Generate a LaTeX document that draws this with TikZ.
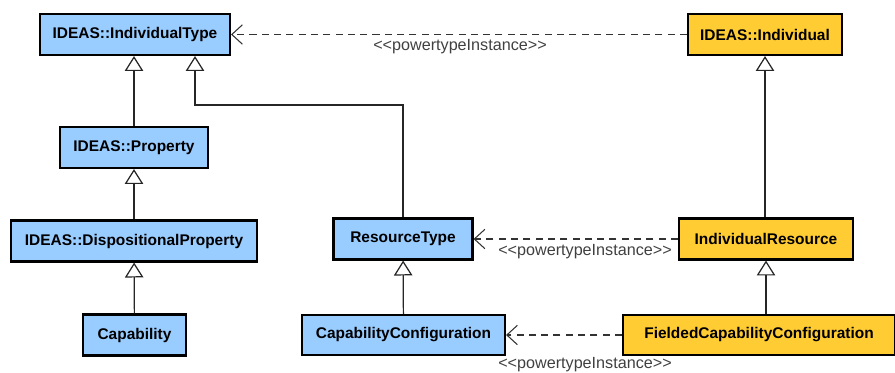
\documentclass[tikz,border=0pt]{standalone}
\usepackage{xcolor}
\usepackage{fontspec}
\setmainfont{Liberation Sans}
\usepackage{tikz}
\usetikzlibrary{positioning,arrows.meta}
\definecolor{typefill}{HTML}{99CCFF}
\definecolor{indivfill}{HTML}{FFCC33}

\begin{document}
\begin{tikzpicture}[
        x=0.02cm, y=-0.02cm,
        umlclass/.style={
            rectangle,
            draw=black,
            line width=1.2pt,
            inner sep=0pt,
            text=black,
            align=center,
            minimum height=0.82cm,
            font=\fontsize{8.8}{10}\selectfont\bfseries
        },
        typebox/.style={umlclass, fill=typefill},
        indivbox/.style={umlclass, fill=indivfill},
        inherit/.style={
            -{Triangle[open, length=8.5pt, width=10.5pt, fill=white]},
            line width=0.7pt,
            color=black!85
        },
        powertype/.style={
            -{Straight Barb[length=6pt, width=11pt, line width=0.6pt]},
            dashed,
            dash pattern=on 4pt off 3pt,
            line width=0.6pt,
            color=black!80
        },
        stereo/.style={
            font=\fontsize{9.2}{10}\selectfont,
            text=black!75,
            inner sep=0pt
        }
    ]
        \useasboundingbox (0,0) rectangle (895,372);

        % left column
        \node[typebox, minimum width=3.8cm] (itype) at (135,34.5) {IDEAS::IndividualType};
        \node[typebox, minimum width=2.96cm] (prop) at (134,147.5) {IDEAS::Property};
        \node[typebox, minimum width=4.92cm] (disp) at (134,241) {IDEAS::DispositionalProperty};
        \node[typebox, minimum width=2.06cm] (capab) at (134.5,335) {Capability};

        % middle column
        \node[typebox, minimum width=2.78cm] (rtype) at (403,239) {ResourceType};
        \node[typebox, minimum width=4.06cm, minimum height=0.8cm] (capconf) at (403.5,335) {CapabilityConfiguration};

        % right column
        \node[indivbox, minimum width=3.08cm] (indiv) at (765,34.5) {IDEAS::Individual};
        \node[indivbox, minimum width=3.48cm] (indres) at (766,239) {IndividualResource};
        \node[indivbox, minimum width=5.44cm, minimum height=0.8cm] (fcc) at (759,335) {FieldedCapabilityConfiguration};

        \coordinate (knee) at (195,105);

        % generalisations
        \draw[inherit] (prop) -- (prop |- itype.south);
        \draw[inherit] (disp) -- (prop);
        \draw[inherit] (capab) -- (disp);
        \draw[inherit] (rtype.north) |- (knee) -- (knee |- itype.south);
        \draw[inherit] (capconf) -- (rtype);
        \draw[inherit] (indres.north -| indiv.south) -- (indiv.south);
        \draw[inherit] (fcc.north -| indres.south) -- (indres.south);

        % powertype instances
        \draw[powertype] (indiv) -- (itype);
        \draw[powertype] (indres) -- (rtype);
        \draw[powertype] (fcc) -- (capconf);
        \node[stereo] (pt1) at (460,47) {<{}<powertypeInstance>{}>};
        \node[stereo] (pt2) at (585,252) {<{}<powertypeInstance>{}>};
        \node[stereo] (pt3) at (585,365) {<{}<powertypeInstance>{}>};
    \end{tikzpicture}
\end{document}
